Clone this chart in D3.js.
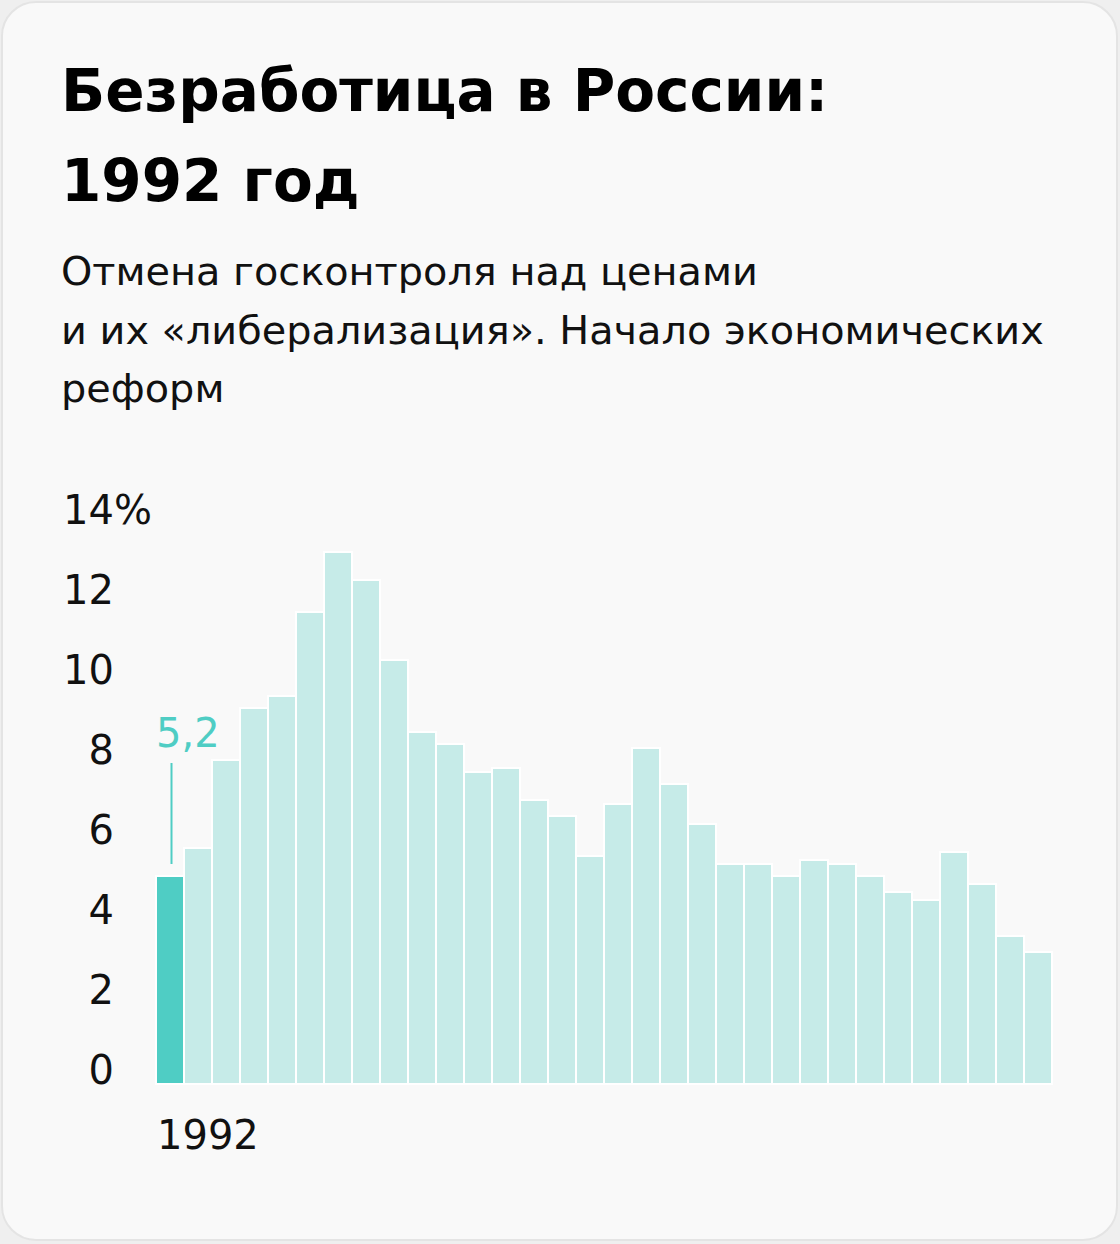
<!DOCTYPE html>
<html><head><meta charset="utf-8">
<script src="https://cdn.jsdelivr.net/npm/d3@7"></script>
<style>html,body{margin:0;padding:0;background:#efefef;}svg{display:block;}</style>
</head><body>
<svg id="c" width="1120" height="1244"></svg>
<script>
const years = d3.range(1992, 2024);
const values = [5.2,5.9,8.1,9.4,9.7,11.8,13.3,12.6,10.6,8.8,8.5,7.8,7.9,7.1,6.7,5.7,7.0,8.4,7.5,6.5,5.5,5.5,5.2,5.6,5.5,5.2,4.8,4.6,5.8,5.0,3.7,3.3];
const yTicks = [0,2,4,6,8,10,12,14];
const xTickLabels = ["1992"];
const highlightYear = 1992;
const highlightLabel = "5,2";
const titleLines = ["Безработица в России:", "1992 год"];
const subtitleLines = ["Отмена госконтроля над ценами", "и их «либерализация». Начало экономических", "реформ"];

const svg = d3.select("#c");
const font = "'DejaVu Sans', sans-serif";

svg.append("rect").attr("x",2).attr("y",2).attr("width",1115).attr("height",1238)
  .attr("rx",34).attr("fill","#f9f9f9").attr("stroke","#e4e4e4").attr("stroke-width",2);

svg.append("g").selectAll("text").data(titleLines).join("text")
  .attr("x",61).attr("y",(d,i)=>111+i*90)
  .attr("font-family",font).attr("font-weight",700).attr("font-size",58)
  .attr("fill","#000").text(d=>d);

svg.append("g").selectAll("text").data(subtitleLines).join("text")
  .attr("x",61).attr("y",(d,i)=>285+i*58.5)
  .attr("font-family",font).attr("font-weight",400).attr("font-size",39.8)
  .attr("fill","#111").text(d=>d);

const x = d3.scaleBand().domain(years).range([156, 156+28*years.length]).padding(0);
const y = d3.scaleLinear().domain([0,14]).range([1084, 524]);

// y axis labels
const yg = svg.append("g");
yTicks.forEach(t=>{
  yg.append("text").attr("x",114).attr("y",y(t)).attr("text-anchor","end")
    .attr("font-family",font).attr("font-size",40).attr("fill","#111").text(t);
  if (t===14) yg.append("text").attr("x",114).attr("y",y(t))
    .attr("font-family",font).attr("font-size",40).attr("fill","#111").text("%");
});

// bars
svg.append("g").selectAll("rect").data(years.map((yr,i)=>({yr,v:values[i]}))).join("rect")
  .attr("x",d=>x(d.yr)).attr("width",x.bandwidth())
  .attr("y",d=>y(d.v)).attr("height",d=>y(0)-y(d.v))
  .attr("fill",d=>d.yr===highlightYear?"#4fcdc4":"#c6ebe8")
  .attr("stroke","#fff").attr("stroke-width",2);

// x label
svg.append("g").selectAll("text").data(xTickLabels).join("text")
  .attr("x",d=>x(+d)+1).attr("y",1149)
  .attr("font-family",font).attr("font-size",40).attr("fill","#111").text(d=>d);

// annotation
const hx = x(highlightYear)+x.bandwidth()/2;
const hv = values[years.indexOf(highlightYear)];
svg.append("line").attr("x1",hx+1.5).attr("x2",hx+1.5).attr("y1",y(hv)-12).attr("y2",763)
  .attr("stroke","#4fcdc4").attr("stroke-width",2);
svg.append("text").attr("x",x(highlightYear)).attr("y",747)
  .attr("font-family",font).attr("font-size",40).attr("fill","#4fcdc4").text(highlightLabel);
</script>
</body></html>
